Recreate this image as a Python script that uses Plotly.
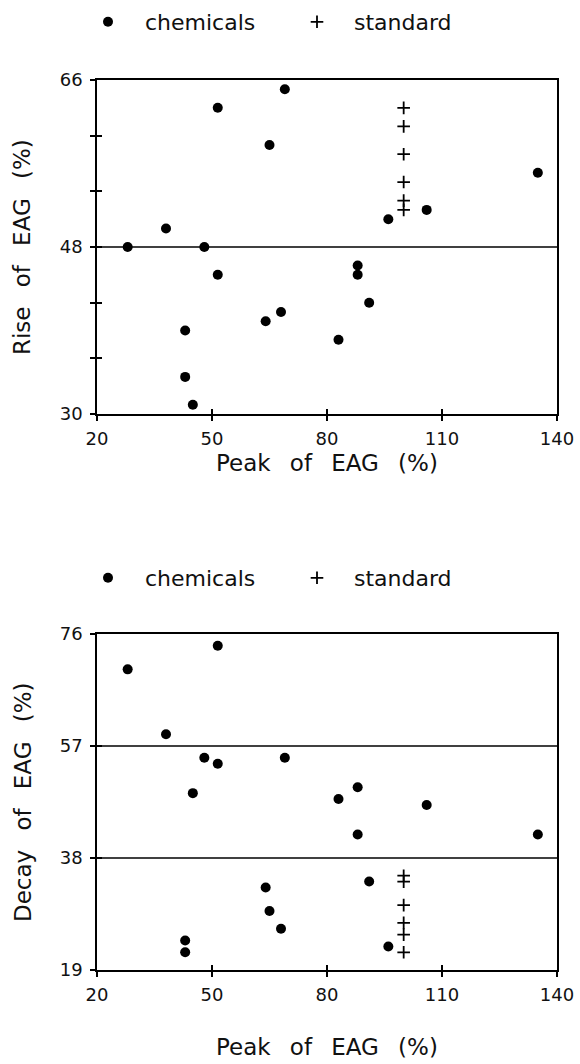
import plotly.graph_objects as go

# ---- data ----
chem_peak = [28, 38, 43, 43, 45, 48, 51.5, 51.5, 64, 65, 68, 69, 83, 88, 88, 91, 96, 106, 135]
chem_rise = [48, 50, 39, 34, 31, 48, 63, 45, 40, 59, 41, 65, 38, 46, 45, 42, 51, 52, 56]
chem_decay = [70, 59, 24, 22, 49, 55, 74, 54, 33, 29, 26, 55, 48, 50, 42, 34, 23, 47, 42]

std_peak = [100, 100, 100, 100, 100, 100]
std_rise = [63, 61, 58, 55, 53, 52]
std_decay = [35, 34, 30, 27, 25, 22]

x_ticks = [20, 50, 80, 110, 140]
rise_ticks = [30, 36, 42, 48, 54, 60, 66]
rise_labels = ["30", "", "", "48", "", "", "66"]
decay_ticks = [19, 38, 57, 76]
decay_labels = ["19", "38", "57", "76"]

rise_refs = [48]
decay_refs = [38, 57]

SP = "\u00a0\u00a0\u2009"
x_title = SP.join(["Peak", "of", "EAG", "(%)"])
rise_title = SP.join(["Rise", "of", "EAG", "(%)"])
decay_title = SP.join(["Decay", "of", "EAG", "(%)"])

FONT = "DejaVu Sans"
W, H = 580, 1064
L, R = 97, 23

def py(px):
    return 1 - px / H

def px_x(px):
    return (px - L) / (W - L - R)

fig = go.Figure()

circle = dict(symbol="circle", size=10, color="black")
cross = dict(symbol="cross-thin", size=9, color="black", line=dict(color="black", width=1.8))

fig.add_trace(go.Scatter(x=chem_peak, y=chem_rise, mode="markers", name="chemicals",
                         marker=circle, xaxis="x", yaxis="y", legend="legend"))
fig.add_trace(go.Scatter(x=std_peak, y=std_rise, mode="markers", name="standard",
                         marker=cross, xaxis="x", yaxis="y", legend="legend3"))
fig.add_trace(go.Scatter(x=chem_peak, y=chem_decay, mode="markers", name="chemicals",
                         marker=circle, xaxis="x2", yaxis="y2", legend="legend2"))
fig.add_trace(go.Scatter(x=std_peak, y=std_decay, mode="markers", name="standard",
                         marker=cross, xaxis="x2", yaxis="y2", legend="legend4"))

# empty traces to activate overlay axes (inside ticks -> crossing tick marks)
fig.add_trace(go.Scatter(x=[], y=[], xaxis="x3", yaxis="y3", showlegend=False, hoverinfo="skip"))
fig.add_trace(go.Scatter(x=[], y=[], xaxis="x4", yaxis="y4", showlegend=False, hoverinfo="skip"))

top_dom = [py(414), py(80)]
bot_dom = [py(970), py(634)]

axis_common = dict(showgrid=False, zeroline=False, showline=True, linecolor="black",
                   linewidth=1.5, mirror=True, ticks="outside", ticklen=5, tickwidth=1.5,
                   tickcolor="black", tickfont=dict(family=FONT, size=18, color="#111"),
                   automargin=False)

overlay_common = dict(ticks="inside", ticklen=5, tickwidth=1.5, tickcolor="black",
                      showticklabels=False, showline=False, showgrid=False, zeroline=False)

legend_common = dict(orientation="h", xanchor="left", yanchor="middle", itemwidth=64,
                     font=dict(family=FONT, size=22, color="#111"),
                     bgcolor="rgba(0,0,0,0)", itemclick=False, itemdoubleclick=False)

fig.update_layout(
    width=W, height=H,
    margin=dict(l=L, r=R, t=0, b=0, autoexpand=False),
    paper_bgcolor="white", plot_bgcolor="white",
    font=dict(family=FONT, color="#111"),
    xaxis=dict(domain=[0, 1], anchor="y", range=[20, 140], tickvals=x_ticks,
               ticklabelstandoff=3, **axis_common),
    yaxis=dict(domain=top_dom, anchor="x", range=[30, 66], tickvals=rise_ticks,
               ticktext=rise_labels, ticklabelstandoff=4, **axis_common),
    xaxis2=dict(domain=[0, 1], anchor="y2", range=[20, 140], tickvals=x_ticks,
                ticklabelstandoff=3, **axis_common),
    yaxis2=dict(domain=bot_dom, anchor="x2", range=[19, 76], tickvals=decay_ticks,
                ticktext=decay_labels, ticklabelstandoff=4, **axis_common),
    xaxis3=dict(overlaying="x", anchor="y3", range=[20, 140], tickvals=x_ticks, **overlay_common),
    yaxis3=dict(overlaying="y", anchor="x3", range=[30, 66], tickvals=rise_ticks, **overlay_common),
    xaxis4=dict(overlaying="x2", anchor="y4", range=[20, 140], tickvals=x_ticks, **overlay_common),
    yaxis4=dict(overlaying="y2", anchor="x4", range=[19, 76], tickvals=decay_ticks, **overlay_common),
    legend=dict(x=px_x(71), y=py(22), **legend_common),
    legend3=dict(x=px_x(280), y=py(22), **legend_common),
    legend2=dict(x=px_x(71), y=py(578), **legend_common),
    legend4=dict(x=px_x(280), y=py(578), **legend_common),
    showlegend=True,
)

for v in rise_refs:
    fig.add_shape(type="line", xref="x domain", yref="y", x0=0, x1=1, y0=v, y1=v,
                  line=dict(color="black", width=1.5))
for v in decay_refs:
    fig.add_shape(type="line", xref="x2 domain", yref="y2", x0=0, x1=1, y0=v, y1=v,
                  line=dict(color="black", width=1.5))

title_font = dict(family=FONT, size=23, color="#111")
fig.add_annotation(text=rise_title, xref="paper", yref="paper", x=px_x(22), y=py(247),
                   textangle=-90, showarrow=False, font=title_font, xanchor="center", yanchor="middle")
fig.add_annotation(text=x_title, xref="paper", yref="paper", x=px_x(327), y=py(463),
                   showarrow=False, font=title_font, xanchor="center", yanchor="middle")
fig.add_annotation(text=decay_title, xref="paper", yref="paper", x=px_x(23), y=py(802),
                   textangle=-90, showarrow=False, font=title_font, xanchor="center", yanchor="middle")
fig.add_annotation(text=x_title, xref="paper", yref="paper", x=px_x(327), y=py(1047),
                   showarrow=False, font=title_font, xanchor="center", yanchor="middle")

fig.write_html("out.html", config={"displayModeBar": False},
               post_script="document.body.style.margin='0';")
